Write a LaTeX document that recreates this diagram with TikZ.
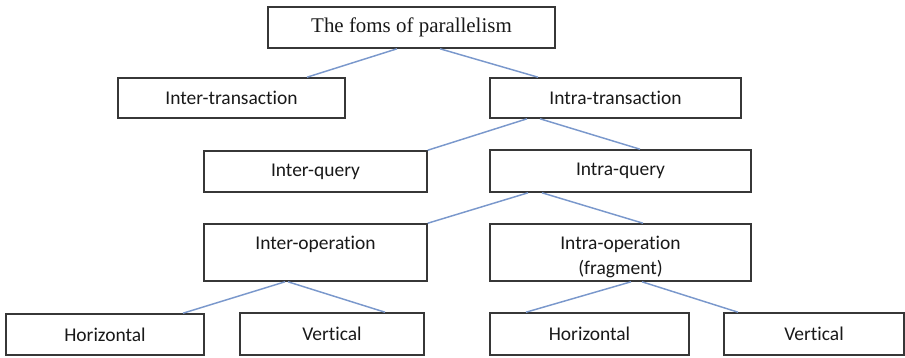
\documentclass[tikz,border=0pt]{standalone}
\usepackage{fontspec}
\setmainfont{Carlito}[Ligatures=NoCommon]
\newfontfamily\titlefont{Liberation Serif}
\usetikzlibrary{calc}
\definecolor{edgeblue}{RGB}{122,152,204}
\definecolor{boxline}{RGB}{55,55,55}
\definecolor{inktext}{RGB}{25,25,25}
\tikzset{
  box/.style={draw=boxline, line width=1.2pt, rectangle, inner sep=0pt,
    align=center, text=inktext, font=\fontsize{14.6}{18.75}\selectfont},
  caption/.style={inner sep=0pt, align=center, text=inktext,
    font=\fontsize{14.6}{18.75}\selectfont},
  link/.style={draw=edgeblue, line width=1.1pt}
}
\begin{document}
\begin{tikzpicture}[x=0.75pt, y=-0.75pt]
\useasboundingbox (0,0) rectangle (905,357);

% level 0
\node[box, minimum width=215.25pt, minimum height=30.75pt,
  font=\titlefont\fontsize{15.7}{18}\selectfont] (top) at (411.5,27.5) {The foms of parallelism};

% level 1
\node[box, minimum width=170.25pt, minimum height=30pt] (itr) at (231.5,98) {Inter-transaction};
\node[box, minimum width=188.25pt, minimum height=30pt] (atr) at (615.5,98) {Intra-transaction};

% level 2
\node[box, minimum width=167.25pt, minimum height=30.75pt] (iq) at (315.5,171.5) {Inter-query};
\node[box, minimum width=195.75pt, minimum height=31.5pt] (aq) at (620.5,171) {Intra-query};

% level 3: taller boxes, captions set as two-line cells
\node[box, minimum width=167.25pt, minimum height=42.75pt] (iop) at (315.5,252.5) {};
\node[box, minimum width=195.75pt, minimum height=42.75pt] (aop) at (620.5,252.5) {};
\node[caption] (iopt) at ($(iop.center)+(0,4)$) {Inter-operation\\\phantom{(fragment)}};
\node[caption] (aopt) at ($(aop.center)+(0,4)$) {Intra-operation\\(fragment)};

% level 4
\node[box, minimum width=148.5pt, minimum height=30.75pt] (h1) at (105,334.5) {Horizontal};
\node[box, minimum width=138pt, minimum height=31.5pt] (v1) at (332,334) {Vertical};
\node[box, minimum width=149.25pt, minimum height=31.5pt] (h2) at (589.5,334) {Horizontal};
\node[box, minimum width=135pt, minimum height=31.5pt] (v2) at (814,334) {Vertical};

% connectors
\draw[link] ($(top.south)+(-14.5,0)$) -- ($(itr.north)+(75.5,0)$);
\draw[link] ($(top.south)+(28.5,0)$) -- ($(atr.north)+(-77.5,0)$);
\draw[link] ($(atr.south)+(-88.5,0)$) -- (iq.north east);
\draw[link] ($(atr.south)+(-75.5,0)$) -- ($(aq.north)+(19.5,0)$);
\draw[link] ($(aq.south)+(-92.5,0)$) -- (iop.north east);
\draw[link] ($(aq.south)+(-78.5,0)$) -- ($(aop.north)+(22.5,0)$);
\draw[link] ($(iop.south)+(-30.5,0)$) -- ($(h1.north)+(78,0)$);
\draw[link] ($(iop.south)+(-27.5,0)$) -- ($(v1.north)+(53,0)$);
\draw[link] ($(aop.south)+(10.5,0)$) -- ($(h2.north)+(-63.5,0)$);
\draw[link] ($(aop.south)+(21.5,0)$) -- ($(v2.north)+(-76,0)$);
\end{tikzpicture}
\end{document}
